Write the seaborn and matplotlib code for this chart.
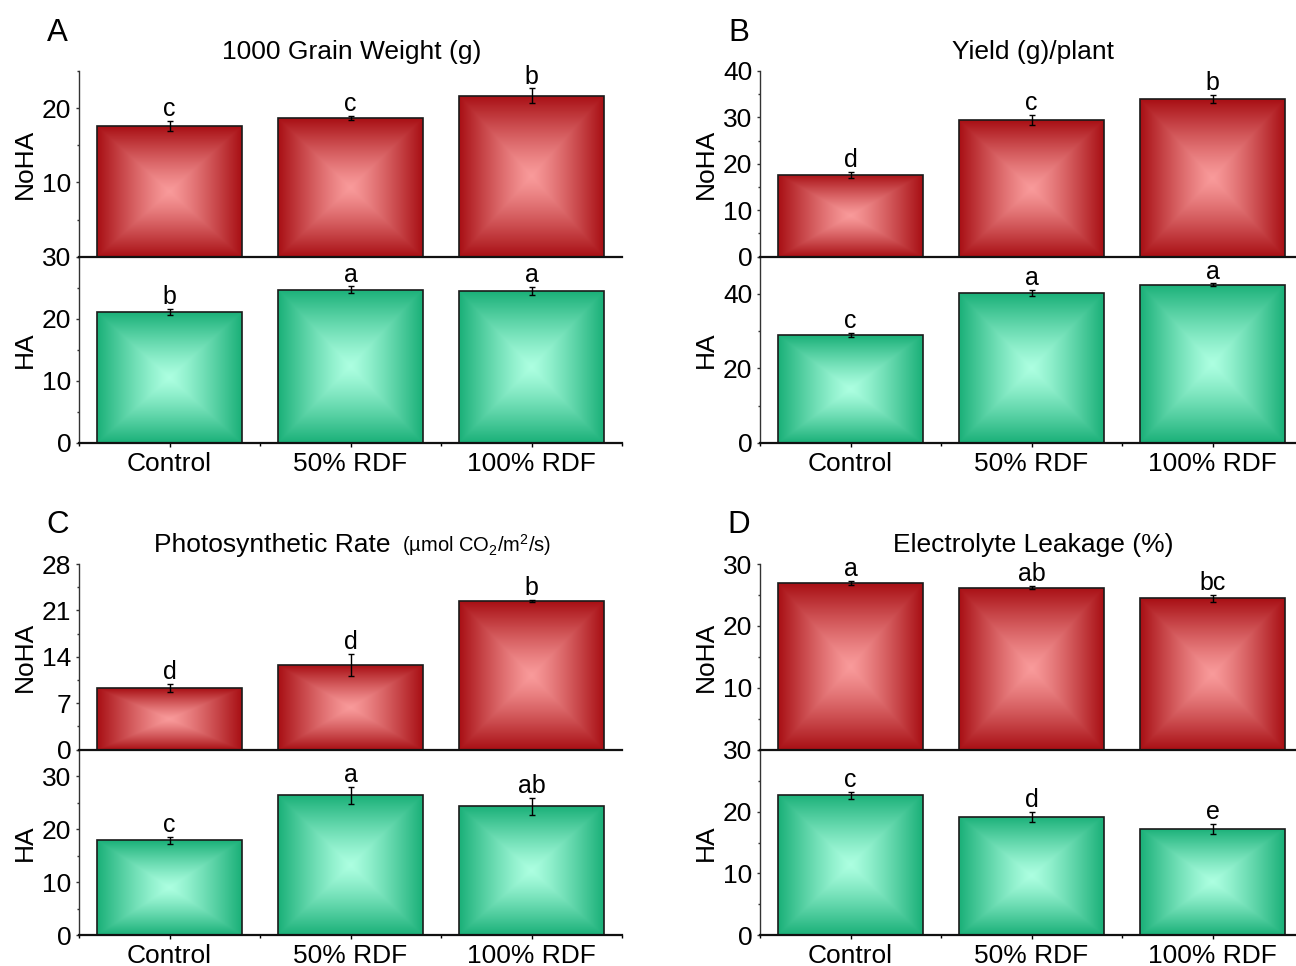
import numpy as np
import pandas as pd
import matplotlib
matplotlib.use("Agg")
import matplotlib.pyplot as plt
import seaborn as sns
from matplotlib.ticker import MultipleLocator
from matplotlib.colors import to_rgb

# ---------------- data ----------------
categories = ["Control", "50% RDF", "100% RDF"]

grain_noha = [17.6, 18.7, 21.7]
grain_noha_err = [0.65, 0.3, 0.95]
grain_noha_sig = ["c", "c", "b"]
grain_ha = [21.1, 24.7, 24.5]
grain_ha_err = [0.5, 0.5, 0.6]
grain_ha_sig = ["b", "a", "a"]

yield_noha = [17.7, 29.4, 34.0]
yield_noha_err = [0.65, 1.1, 0.9]
yield_noha_sig = ["d", "c", "b"]
yield_ha = [28.9, 40.2, 42.5]
yield_ha_err = [0.5, 0.85, 0.3]
yield_ha_sig = ["c", "a", "a"]

photo_noha = [9.3, 12.8, 22.4]
photo_noha_err = [0.6, 1.65, 0.15]
photo_noha_sig = ["d", "d", "b"]
photo_ha = [17.9, 26.4, 24.3]
photo_ha_err = [0.6, 1.55, 1.65]
photo_ha_sig = ["c", "a", "ab"]

leak_noha = [26.9, 26.2, 24.45]
leak_noha_err = [0.35, 0.3, 0.6]
leak_noha_sig = ["a", "ab", "bc"]
leak_ha = [22.65, 19.1, 17.2]
leak_ha_err = [0.55, 0.85, 0.8]
leak_ha_sig = ["c", "d", "e"]

# ---------------- style ----------------
sns.set_style("ticks")
plt.rcParams["font.family"] = ["Liberation Sans", "DejaVu Sans"]
plt.rcParams["mathtext.fontset"] = "custom"
plt.rcParams["mathtext.rm"] = "Liberation Sans"
plt.rcParams["mathtext.it"] = "Liberation Sans:italic"
plt.rcParams["mathtext.bf"] = "Liberation Sans:bold"
for k in ["text.color", "axes.labelcolor", "xtick.color", "ytick.color"]:
    plt.rcParams[k] = "black"

RED_DARK, RED_LIGHT = "#A80F14", "#F99B9B"
GREEN_DARK, GREEN_LIGHT = "#1AB078", "#ADFFE1"
FS = 19

W, H = 1296.0, 966.0
fig = plt.figure(figsize=(12.96, 9.66), dpi=100)


def gradient_fill(ax, patch, dark, light, n=300):
    x0, y0 = patch.get_x(), patch.get_y()
    w, h = patch.get_width(), patch.get_height()
    u = np.linspace(-1, 1, n)
    U, V = np.meshgrid(u, u)
    t = np.maximum(np.abs(U), np.abs(V)) ** 1.2
    d = np.array(to_rgb(dark))
    l = np.array(to_rgb(light))
    img = l[None, None, :] + (d - l)[None, None, :] * t[..., None]
    im = ax.imshow(img, extent=[x0, x0 + w, y0, y0 + h], origin="lower",
                   aspect="auto", zorder=1.5, interpolation="bilinear")
    im.set_clip_path(patch)
    patch.set_facecolor("none")
    patch.set_zorder(2)


def draw(ax, values, errs, sigs, dark, light, ylim, yticks, minor, bottom_axis):
    df = pd.DataFrame({"Treatment": categories, "Value": values})
    sns.barplot(data=df, x="Treatment", y="Value", ax=ax, width=0.8,
                color=dark, errorbar=None, edgecolor="#1a1a1a",
                linewidth=1.2, saturation=1)
    bars = list(ax.patches)
    xs = [p.get_x() + p.get_width() / 2 for p in bars]
    for p in bars:
        gradient_fill(ax, p, dark, light)
    ax.errorbar(xs, values, yerr=errs, fmt="none", ecolor="black",
                elinewidth=1, capsize=2, capthick=1, zorder=3)
    for x, v, e, s in zip(xs, values, errs, sigs):
        ax.annotate(s, (x, v + e), xytext=(0, 3.5), textcoords="offset points",
                    ha="center", va="baseline", fontsize=18)
    ax.set_xlim(-0.5, 2.5)
    ax.set_ylim(*ylim)
    ax.set_yticks(yticks)
    ax.yaxis.set_minor_locator(MultipleLocator(minor))
    ax.set_xlabel("")
    ax.set_ylabel("")
    for s in ["top", "right"]:
        ax.spines[s].set_visible(False)
    ax.spines["left"].set_color("#333333")
    ax.spines["left"].set_linewidth(1.0)
    ax.spines["bottom"].set_color("#111111")
    ax.spines["bottom"].set_linewidth(1.6)
    ax.tick_params(axis="y", which="major", labelsize=FS, length=2.5, width=1,
                   pad=3, color="#333333")
    ax.tick_params(axis="y", which="minor", length=1.5, width=1, color="#333333", left=True)
    if bottom_axis:
        ax.set_xticks([0, 1, 2])
        ax.set_xticklabels(categories)
        ax.xaxis.set_minor_locator(MultipleLocator(0.5))
        ax.tick_params(axis="x", which="major", labelsize=FS, length=3, width=1, pad=3.5)
        ax.tick_params(axis="x", which="minor", length=2, width=1, bottom=True)
    else:
        ax.tick_params(axis="x", which="both", bottom=False, labelbottom=False)
    ax.patch.set_alpha(0)


panels = [
    dict(letter="A", title="1000 Grain Weight (g)", left=79, top_row=True,
         top=(grain_noha, grain_noha_err, grain_noha_sig, (0, 25), [10, 20], 5),
         bot=(grain_ha, grain_ha_err, grain_ha_sig, (0, 30), [0, 10, 20, 30], 5)),
    dict(letter="B", title="Yield (g)/plant", left=760, top_row=True,
         top=(yield_noha, yield_noha_err, yield_noha_sig, (0, 40), [0, 10, 20, 30, 40], 5),
         bot=(yield_ha, yield_ha_err, yield_ha_sig, (0, 50), [0, 20, 40], 10)),
    dict(letter="C", title=None, left=79, top_row=False,
         top=(photo_noha, photo_noha_err, photo_noha_sig, (0, 28), [0, 7, 14, 21, 28], 3.5),
         bot=(photo_ha, photo_ha_err, photo_ha_sig, (0, 35), [0, 10, 20, 30], 5)),
    dict(letter="D", title="Electrolyte Leakage (%)", left=760, top_row=False,
         top=(leak_noha, leak_noha_err, leak_noha_sig, (0, 30), [10, 20, 30], 5),
         bot=(leak_ha, leak_ha_err, leak_ha_sig, (0, 30), [0, 10, 20, 30], 5)),
]

AX_W = 543.0
for pn in panels:
    if pn["top_row"]:
        y_top, y_mid, y_bot = 71.0, 256.7, 442.7
        letter_base = 41.0
    else:
        y_top, y_mid, y_bot = 564.0, 749.7, 935.3
        letter_base = 533.0
    left = pn["left"] / W
    width = AX_W / W
    ax_b = fig.add_axes([left, 1 - y_bot / H, width, (y_bot - y_mid) / H])
    ax_t = fig.add_axes([left, 1 - y_mid / H, width, (y_mid - y_top) / H])

    v, e, s, yl, yt, mn = pn["bot"]
    draw(ax_b, v, e, s, GREEN_DARK, GREEN_LIGHT, yl, yt, mn, True)
    v, e, s, yl, yt, mn = pn["top"]
    draw(ax_t, v, e, s, RED_DARK, RED_LIGHT, yl, yt, mn, False)

    ax_t.text(-0.10, 0.5, "NoHA", transform=ax_t.transAxes, rotation=90,
              ha="center", va="center", fontsize=FS)
    ax_b.text(-0.10, 0.5, "HA", transform=ax_b.transAxes, rotation=90,
              ha="center", va="center", fontsize=FS)

    lx = (pn["left"] - 21.5) / W
    fig.text(lx, 1 - letter_base / H, pn["letter"], ha="center", va="baseline",
             fontsize=22.5)

    ty = 1 + 12.0 / (y_mid - y_top)
    if pn["title"] is not None:
        ax_t.text(0.503, ty, pn["title"], transform=ax_t.transAxes,
                  ha="center", va="baseline", fontsize=FS)
    else:
        ax_t.text(0.573, ty, "Photosynthetic Rate", transform=ax_t.transAxes,
                  ha="right", va="baseline", fontsize=FS)
        ax_t.text(0.594, ty, "(µmol CO$_2$/m$^2$/s)", transform=ax_t.transAxes,
                  ha="left", va="baseline", fontsize=14.5)

fig.savefig("out.png", dpi=100)
